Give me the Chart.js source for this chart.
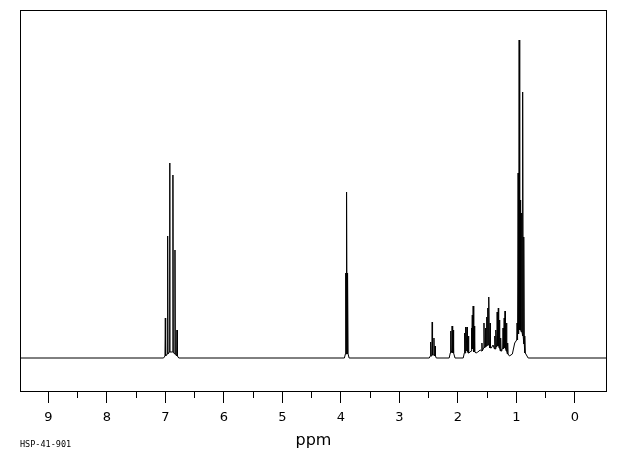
<!DOCTYPE html>
<html>
<head>
<meta charset="utf-8">
<script src="https://cdn.jsdelivr.net/npm/chart.js@4.4.1/dist/chart.umd.min.js"></script>
<style>
html,body{margin:0;padding:0;background:#fff;}
#wrap{position:relative;width:620px;height:455px;}
#code{position:absolute;left:20px;top:439px;font:8.5px "DejaVu Sans Mono",monospace;color:#000;}
</style>
</head>
<body>
<div id="wrap">
<canvas id="nmr" width="620" height="455"></canvas>
<div id="code">HSP-41-901</div>
</div>
<script>
/* ================= DATA ================= */

// x range of the frame (ppm, plotted reversed)
const ppmMin=-0.547;
const ppmMax=9.483;

// y range (relative intensity, baseline = 0)
const intMin=-34;
const intMax=348;

const majorTicks=[9,8,7,6,5,4,3,2,1,0];
const minorTicks=[8.5,7.5,6.5,5.5,4.5,3.5,2.5,1.5,0.5];

// resolved lines: shift, height, foot height either side
const peakPpm=[
7.000,6.960,6.926,6.870,6.835,6.800,
3.917,3.900,3.883,
2.466,2.440,2.410,2.390,
2.125,2.100,2.080,
1.885,1.865,1.845,1.820,
1.770,1.755,1.740,1.720,
1.590,1.555,1.530,1.510,1.490,1.470,1.450,
1.370,1.350,1.330,1.310,1.290,1.270,
1.230,1.210,1.195,1.170,1.150,
0.990,0.972,0.954,0.935,0.911,0.891,0.872,0.855
];
const peakHeight=[
40,122,195,183,108,28,
85,166,85,
16,36,20,12,
27,32,28,
25,31,31,22,
30,43,52,32,
15,35,30,41,50,61,35,
22,28,46,50,38,20,
30,40,47,35,15,
35,185,318,158,145,266,121,22
];
const peakFoot=[
2,4,6,6,4,2,
4,8,4,
2,3,3,2,
5,7,5,
5,7,7,5,
7,9,9,6,
7,10,11,12,13,13,10,
9,11,12,12,10,7,
9,10,10,7,4,
18,24,28,28,26,22,14,5
];

// valleys / humps between multiplets
const valleyPpm=[9.483,7.030,6.770,3.940,3.860,2.490,2.370,2.150,2.050,1.910,1.790,1.690,1.660,1.620,1.430,1.400,1.250,1.120,1.070,1.030,0.830,0.800,-0.547];
const valleyHeight=[0,0,0,0,0,0,0,0,0,0,6,5,6,8,10,13,9,2,4,15,3,0,0];


/* ================= BUILD ================= */

function buildSpectrum(){

const pts=[];
const w=0.006;

peakPpm.forEach((p,i)=>{
pts.push({x:p+w,y:peakFoot[i]});
pts.push({x:p,y:peakHeight[i]});
pts.push({x:p-w,y:peakFoot[i]});
});

valleyPpm.forEach((p,i)=>{
pts.push({x:p,y:valleyHeight[i]});
});

pts.sort((a,b)=>b.x-a.x);
return pts;
}


/* ================= FRAME ================= */

const framePlugin={
id:"frame",
afterDatasetsDraw(chart){
const {ctx,chartArea:a}=chart;
ctx.save();
ctx.strokeStyle="#000";
ctx.lineWidth=1;
ctx.strokeRect(a.left+0.5,a.top+0.5,a.right-a.left-1,a.bottom-a.top-1);
ctx.restore();
}
};


/* ================= CHART ================= */

new Chart(document.getElementById("nmr"),{
type:"scatter",
data:{datasets:[{
data:buildSpectrum(),
showLine:true,
borderColor:"#000",
borderWidth:1,
pointRadius:0,
tension:0
}]},
options:{
responsive:false,
animation:false,
events:[],
layout:{padding:{left:20,right:13,top:10,bottom:0}},
plugins:{legend:{display:false},tooltip:{enabled:false}},
scales:{
x:{
type:"linear",
position:"bottom",
reverse:true,
min:ppmMin,
max:ppmMax,
afterBuildTicks:s=>{s.ticks=majorTicks.map(v=>({value:v}));},
afterFit:s=>{s.height=63;},
border:{display:false},
grid:{drawOnChartArea:false,drawTicks:true,tickLength:11,color:"#000",tickWidth:1},
ticks:{color:"#000",padding:7,maxRotation:0,autoSkip:false,font:{family:"DejaVu Sans",size:13},callback:v=>String(v)},
title:{display:true,text:"ppm",color:"#000",font:{family:"DejaVu Sans",size:16},padding:{top:0,bottom:5}}
},
xMinor:{
type:"linear",
axis:"x",
position:{y:intMin},
reverse:true,
min:ppmMin,
max:ppmMax,
afterBuildTicks:s=>{s.ticks=minorTicks.map(v=>({value:v}));},
border:{display:false},
grid:{drawOnChartArea:false,drawTicks:true,tickLength:6,color:"#000",tickWidth:1},
ticks:{display:false}
},
y:{
type:"linear",
display:false,
min:intMin,
max:intMax
}
}
},
plugins:[framePlugin]
});
</script>
</body>
</html>
